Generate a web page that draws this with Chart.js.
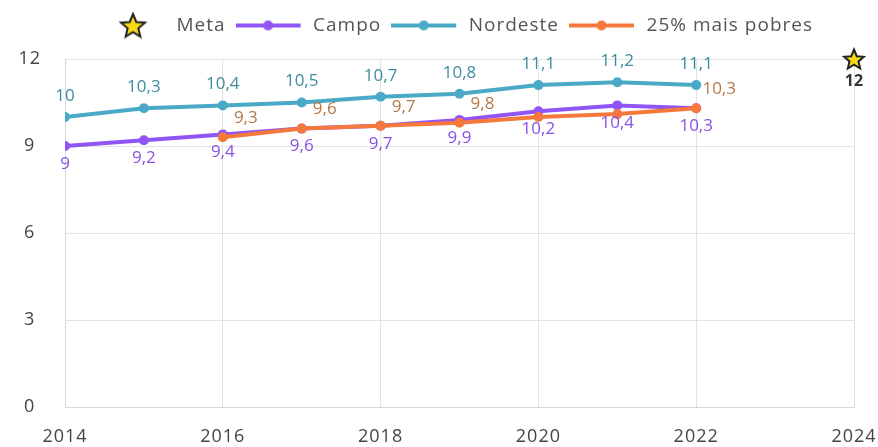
<!DOCTYPE html>
<html><head><meta charset="utf-8">
<script src="https://cdn.jsdelivr.net/npm/chart.js@4"></script>
<style>html,body{margin:0;padding:0;background:#fff}#wrap{width:878px;height:447px;position:relative}</style>
</head><body><div id="wrap"><canvas id="c"></canvas></div>
<script>
// ---- data ----
const years = [2014, 2015, 2016, 2017, 2018, 2019, 2020, 2021, 2022];
const campo = [9, 9.2, 9.4, 9.6, 9.7, 9.9, 10.2, 10.4, 10.3];
const nordeste = [10, 10.3, 10.4, 10.5, 10.7, 10.8, 11.1, 11.2, 11.1];
const pobres = [null, null, 9.3, 9.6, 9.7, 9.8, 10.0, 10.1, 10.3];
const pobresLabelShown = [false, false, true, true, true, true, false, false, true];
const metaYear = [2024];
const metaValue = [12];
const xTicks = [2014, 2016, 2018, 2020, 2022, 2024];
const yTicks = [0, 3, 6, 9, 12];
const seriesNames = ['Meta', 'Campo', 'Nordeste', '25% mais pobres'];

// ---- styles ----
const FONT = '"Open Sans", "Noto Sans", sans-serif';
const C_CAMPO = '#9155f5', C_NORD = '#4aa9c6', C_POBRES = '#f5793c';
const L_CAMPO = '#8a50e6', L_NORD = '#3f8ca2', L_POBRES = '#b4784a';

function starPath(ctx, cx, cy, R, r) {
  ctx.beginPath();
  for (let i = 0; i < 10; i++) {
    const a = -Math.PI / 2 + i * Math.PI / 5;
    const rad = i % 2 === 0 ? R : r;
    const x = cx + rad * Math.cos(a), y = cy + rad * Math.sin(a);
    i === 0 ? ctx.moveTo(x, y) : ctx.lineTo(x, y);
  }
  ctx.closePath();
}
function makeStar(size) {
  const c = document.createElement('canvas');
  c.width = size; c.height = size;
  const ctx = c.getContext('2d');
  const R = size / 2 - 1.5;
  starPath(ctx, size / 2, size / 2 + 1, R, R * 0.45);
  ctx.fillStyle = '#f5d81a'; ctx.fill();
  ctx.lineWidth = 2; ctx.strokeStyle = '#222'; ctx.lineJoin = 'miter'; ctx.stroke();
  return c;
}
function makeLineIcon(color) {
  const c = document.createElement('canvas');
  c.width = 68; c.height = 12;
  const ctx = c.getContext('2d');
  ctx.strokeStyle = color; ctx.lineWidth = 4;
  ctx.beginPath(); ctx.moveTo(0, 6); ctx.lineTo(65, 6); ctx.stroke();
  ctx.fillStyle = color; ctx.beginPath(); ctx.arc(32.5, 6, 5, 0, Math.PI * 2); ctx.fill();
  return c;
}
const starChart = makeStar(24);
const starLegend = makeStar(28);
const icons = [starLegend, makeLineIcon(C_CAMPO), makeLineIcon(C_NORD), makeLineIcon(C_POBRES)];

const toPts = (arr) => years.map((y, i) => ({ x: y, y: arr[i] }));
const fmt = v => String(v).replace('.', ',');

const spacingPlugin = {
  id: 'spacing',
  beforeInit(chart) { chart.ctx.letterSpacing = '1px'; },
  beforeUpdate(chart) { chart.ctx.letterSpacing = '1px'; },
  beforeLayout(chart) { chart.ctx.letterSpacing = '1px'; },
  beforeDraw(chart) { chart.ctx.letterSpacing = '1px'; },
  afterInit(chart) {
    const lg = chart.legend;
    if (lg && !lg._patched) {
      const orig = lg.fit.bind(lg);
      lg.fit = function () { orig(); this.height += 14; };
      lg._patched = true;
    }
  },
  afterLayout(chart) {
    const lg = chart.legend;
    if (lg) { lg.left += 18; lg.right += 18; }
  }
};

const labelsPlugin = {
  id: 'pointLabels',
  afterDatasetsDraw(chart) {
    const ctx = chart.ctx;
    ctx.save();
    ctx.letterSpacing = '0px';
    chart.data.datasets.forEach((ds, di) => {
      const cfg = ds.pointLabel;
      if (!cfg) return;
      const meta = chart.getDatasetMeta(di);
      meta.data.forEach((pt, i) => {
        const v = ds.data[i].y;
        if (v === null || v === undefined) return;
        if (cfg.shown && !cfg.shown[i]) return;
        ctx.font = (cfg.bold ? '700 ' : '400 ') + cfg.size + 'px ' + FONT;
        ctx.fillStyle = cfg.color;
        ctx.textAlign = 'center';
        ctx.textBaseline = 'middle';
        ctx.fillText(fmt(v), pt.x + cfg.dx, pt.y + cfg.dy);
      });
    });
    ctx.restore();
  }
};

new Chart(document.getElementById('c'), {
  type: 'line',
  data: {
    datasets: [
      { label: seriesNames[0], data: metaYear.map((y, i) => ({ x: y, y: metaValue[i] })), showLine: false,
        pointStyle: starChart, pointRadius: 12, pointHoverRadius: 12, clip: false,
        pointLabel: { color: '#333', size: 16, bold: true, dx: 0, dy: 22 } },
      { label: seriesNames[2], data: toPts(nordeste), borderColor: C_NORD, backgroundColor: C_NORD,
        borderWidth: 4, pointRadius: 5, pointHoverRadius: 5, pointBorderWidth: 0,
        pointLabel: { color: L_NORD, size: 17, dx: 0, dy: -21 } },
      { label: seriesNames[3], data: toPts(pobres), borderColor: C_POBRES, backgroundColor: C_POBRES,
        borderWidth: 4, pointRadius: 5, pointHoverRadius: 5, pointBorderWidth: 0,
        pointLabel: { color: L_POBRES, size: 17, dx: 23, dy: -19, shown: pobresLabelShown } },
      { label: seriesNames[1], data: toPts(campo), borderColor: C_CAMPO, backgroundColor: C_CAMPO,
        borderWidth: 4, pointRadius: 5, pointHoverRadius: 5, pointBorderWidth: 0,
        pointLabel: { color: L_CAMPO, size: 17, dx: 0, dy: 18 } }
    ]
  },
  options: {
    responsive: true, maintainAspectRatio: false, animation: false,
    layout: { padding: { top: 6, right: 2, left: 0, bottom: 0 } },
    plugins: {
      tooltip: { enabled: false },
      legend: {
        position: 'top', align: 'center',
        labels: {
          usePointStyle: true, pointStyleWidth: 68, boxHeight: 18,
          padding: 10, color: '#555', font: { family: FONT, size: 19 },
          generateLabels: () => seriesNames.map((n, i) => ({
            text: n, pointStyle: icons[i], fillStyle: '#000', strokeStyle: '#000',
            lineWidth: 0, hidden: false, fontColor: '#555', datasetIndex: i
          }))
        }
      }
    },
    scales: {
      x: {
        type: 'linear', min: 2014, max: 2024,
        afterBuildTicks: s => { s.ticks = xTicks.map(v => ({ value: v })); },
        afterFit: s => { s.height = 40; s.paddingRight = 24; },
        ticks: { color: '#444', font: { family: FONT, size: 18 }, padding: 19, maxRotation: 0,
          callback: v => String(v) },
        grid: { color: '#e3e3e3', drawTicks: false },
        border: { color: '#d8d8d8' }
      },
      y: {
        min: 0, max: 12,
        afterBuildTicks: s => { s.ticks = yTicks.map(v => ({ value: v })); },
        afterFit: s => { s.width = 65; },
        ticks: { color: '#444', font: { family: FONT, size: 18 }, padding: 24, crossAlign: 'center',
          callback: v => String(v) },
        grid: { color: '#e3e3e3', drawTicks: false },
        border: { color: '#d8d8d8' }
      }
    }
  },
  plugins: [spacingPlugin, labelsPlugin]
});
</script>
</body></html>
